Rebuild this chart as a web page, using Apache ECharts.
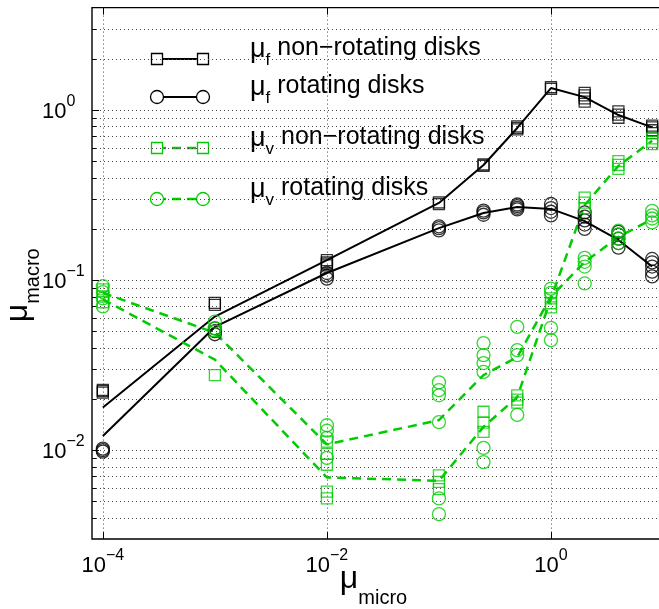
<!DOCTYPE html>
<html>
<head>
<meta charset="utf-8">
<script src="https://cdn.jsdelivr.net/npm/echarts@6/dist/echarts.min.js"></script>
<style>
  html, body { margin: 0; padding: 0; background: #fff; }
  #chart { width: 659px; height: 609px; }
</style>
</head>
<body>
<div id="chart"></div>
<script>
// micro friction values (x) where the runs were made
const xVals = [0.0001, 0.001, 0.01, 0.1, 0.25, 0.5, 1, 2, 4, 8];

// mean curves
const fNonRotMean = [0.0178, 0.061, 0.131, 0.284, 0.475, 0.784, 1.346, 1.19, 0.934, 0.79];
const fRotMean    = [0.0121, 0.053, 0.11, 0.202, 0.248, 0.269, 0.262, 0.222, 0.172, 0.12];
const vNonRotMean = [0.077, 0.034, 0.0069, 0.0066, 0.0137, 0.0205, 0.078, 0.276, 0.469, 0.66];
const vRotMean    = [0.084, 0.049, 0.0108, 0.015, 0.0276, 0.0352, 0.08, 0.1276, 0.179, 0.228];

// individual runs, one list per x value
const fNonRotRuns = [
  [0.0222, 0.0218, 0.0226], [0.0733, 0.0715], [0.122, 0.127, 0.131, 0.125],
  [0.28, 0.286], [0.47, 0.478], [0.77, 0.784, 0.8], [1.33, 1.36],
  [1.12, 1.17, 1.22, 1.26], [0.9, 0.94, 0.98], [0.73, 0.76, 0.79, 0.81]
];
const fRotRuns = [
  [0.0098, 0.01, 0.0102], [0.048, 0.05, 0.052], [0.102, 0.106, 0.11],
  [0.196, 0.202, 0.207], [0.242, 0.25, 0.256], [0.26, 0.266, 0.272, 0.278],
  [0.24, 0.252, 0.265, 0.28], [0.2, 0.212, 0.224, 0.236, 0.25],
  [0.155, 0.165, 0.175, 0.185, 0.192], [0.105, 0.112, 0.12, 0.127, 0.133]
];
const vNonRotRuns = [
  [0.088, 0.08, 0.074], [0.0276, 0.05], [0.0112, 0.0095, 0.0082, 0.0057, 0.0052],
  [0.0071, 0.0065, 0.0059], [0.0168, 0.0145, 0.0128], [0.021, 0.0198, 0.019],
  [0.078, 0.073, 0.069], [0.305, 0.285, 0.265], [0.5, 0.475, 0.45], [0.68, 0.65, 0.63]
];
const vRotRuns = [
  [0.092, 0.085, 0.078, 0.07], [0.057, 0.052], [0.014, 0.013, 0.0118, 0.009],
  [0.025, 0.0225, 0.021, 0.0146, 0.0052, 0.0042],
  [0.0426, 0.0362, 0.0325, 0.0288, 0.0103, 0.0085],
  [0.053, 0.0387, 0.0362, 0.0161], [0.089, 0.084, 0.0523, 0.0443],
  [0.135, 0.128, 0.12, 0.0955], [0.195, 0.185, 0.175, 0.165], [0.255, 0.24, 0.23, 0.218]
];

// grid / tick positions
const xMajorTicks = [0.0001, 0.01, 1];
const yMajorTicks = [0.01, 0.1, 1];
const yMinorTicks = [0.004, 0.005, 0.006, 0.007, 0.008, 0.009,
  0.02, 0.03, 0.04, 0.05, 0.06, 0.07, 0.08, 0.09,
  0.2, 0.3, 0.4, 0.5, 0.6, 0.7, 0.8, 0.9, 2, 3];

const legendNames = [
  { sub: 'f', text: ' non\u2212rotating disks' },
  { sub: 'f', text: ' rotating disks' },
  { sub: 'v', text: ' non\u2212rotating disks' },
  { sub: 'v', text: ' rotating disks' }
];

const FONT = 'Liberation Sans';
const BLACK = '#000';
const GREEN = '#00cc00';
const DASH = [9, 6];

const pairs = (ys) => xVals.map((x, i) => [x, ys[i]]);
const runPoints = (runs) => xVals.flatMap((x, i) => runs[i].map(y => [x, y]));

function expLabel(v, lo, hi, step) {
  const e = Math.log10(v);
  const r = Math.round(e);
  if (Math.abs(e - r) > 1e-6 || r < lo || r > hi || (r - lo) % step) return '';
  return '{b|10}{s|' + (r < 0 ? '\u2212' + (-r) : r) + '}';
}

// base "10" sits at the bottom of the line, the exponent at the top
const tickRich = {
  b: { fontFamily: FONT, fontSize: 22, lineHeight: 29.5, verticalAlign: 'bottom', color: BLACK },
  s: { fontFamily: FONT, fontSize: 16, lineHeight: 10, verticalAlign: 'top', color: BLACK }
};

// dotted grid lines + inward ticks
function hLine(params, api) {
  const cs = params.coordSys;
  const y = Math.round(api.coord([1, api.value(1)])[1]) + 0.5;
  const len = api.value(2) ? 7 : 4;
  return { type: 'group', children: [
    { type: 'line', shape: { x1: cs.x, y1: y, x2: cs.x + cs.width, y2: y },
      style: { stroke: '#444', lineWidth: 1, lineDash: [1, 3] } },
    { type: 'line', shape: { x1: cs.x, y1: y, x2: cs.x + len, y2: y },
      style: { stroke: BLACK, lineWidth: 1 } }
  ]};
}
function vLine(params, api) {
  const cs = params.coordSys;
  const x = Math.round(api.coord([api.value(0), 0.1])[0]) + 0.5;
  return { type: 'group', children: [
    { type: 'line', shape: { x1: x, y1: cs.y, x2: x, y2: cs.y + cs.height },
      style: { stroke: '#444', lineWidth: 1, lineDash: [1, 3] } },
    { type: 'line', shape: { x1: x, y1: cs.y + cs.height, x2: x, y2: cs.y + cs.height - 7 },
      style: { stroke: BLACK, lineWidth: 1 } },
    { type: 'line', shape: { x1: x, y1: cs.y, x2: x, y2: cs.y + 7 },
      style: { stroke: BLACK, lineWidth: 1 } }
  ]};
}

function meanLine(name, ys, color, dashed) {
  return {
    name, type: 'line', data: pairs(ys), symbol: 'none', z: 3, silent: true,
    lineStyle: { color, width: dashed ? 2.5 : 2, type: dashed ? DASH : 'solid' }
  };
}
function runScatter(name, runs, color, symbol) {
  return {
    name, type: 'scatter', data: runPoints(runs), symbol, z: 4, silent: true,
    symbolSize: symbol === 'rect' ? 11 : 13,
    itemStyle: { color: 'transparent', borderColor: color, borderWidth: 1.3 }
  };
}

// legend drawn by hand (marker - line - marker like the original)
const legendRows = [59, 97, 148, 199];
const legendStyle = [
  { color: BLACK, dash: null, sym: 'rect' },
  { color: BLACK, dash: null, sym: 'circle' },
  { color: GREEN, dash: DASH, sym: 'rect' },
  { color: GREEN, dash: DASH, sym: 'circle' }
];
const legendGraphics = [];
legendRows.forEach((y, i) => {
  const st = legendStyle[i];
  legendGraphics.push({ type: 'line', shape: { x1: 157, y1: y, x2: 203, y2: y },
    style: { stroke: st.color, lineWidth: st.dash ? 2.5 : 2, lineDash: st.dash } });
  [157, 203].forEach(cx => {
    if (st.sym === 'rect') {
      legendGraphics.push({ type: 'rect', shape: { x: cx - 5.5, y: y - 5.5, width: 11, height: 11 },
        style: { fill: '#fff', stroke: st.color, lineWidth: 1.3 } });
    } else {
      legendGraphics.push({ type: 'circle', shape: { cx, cy: y, r: 6.5 },
        style: { fill: '#fff', stroke: st.color, lineWidth: 1.3 } });
    }
  });
  legendGraphics.push({ type: 'text', x: 250, y: y - 23, style: {
    text: '{m|\u03bc}{s|' + legendNames[i].sub + '}{t|' + legendNames[i].text + '}',
    verticalAlign: 'top', align: 'left',
    rich: {
      m: { fontFamily: FONT, fontSize: 27, lineHeight: 24, verticalAlign: 'top', fill: BLACK },
      s: { fontFamily: FONT, fontSize: 17, lineHeight: 32.5, verticalAlign: 'bottom', fill: BLACK },
      t: { fontFamily: FONT, fontSize: 25, lineHeight: 24, verticalAlign: 'top', fill: BLACK }
    }
  }});
});

const chart = echarts.init(document.getElementById('chart'));
chart.setOption({
  animation: false,
  backgroundColor: '#fff',
  grid: {
    left: 92, right: -4, top: 7.6, bottom: 70,
    containLabel: false, outerBoundsMode: 'none',
    show: true, borderColor: BLACK, borderWidth: 1.4, backgroundColor: 'transparent'
  },
  xAxis: {
    type: 'log', logBase: 10, min: 0.00008, max: 10,
    axisLine: { show: false }, axisTick: { show: false }, splitLine: { show: false },
    axisLabel: { formatter: v => expLabel(v, -4, 0, 2), margin: 8.5, rich: tickRich,
      showMinLabel: true, showMaxLabel: true },
    name: '{m|\u03bc}{s|micro}', nameLocation: 'middle', nameGap: 24.5, nameMoveOverlap: false,
    nameTextStyle: {
      padding: [0, 8, 0, 0],
      rich: {
        m: { fontFamily: FONT, fontSize: 32, lineHeight: 30, verticalAlign: 'top', color: BLACK },
        s: { fontFamily: FONT, fontSize: 20, lineHeight: 44.5, verticalAlign: 'bottom', color: BLACK }
      }
    }
  },
  yAxis: {
    type: 'log', logBase: 10, min: 0.003, max: 4,
    axisLine: { show: false }, axisTick: { show: false }, splitLine: { show: false },
    axisLabel: { formatter: v => expLabel(v, -2, 0, 1), margin: 50, align: 'left',
      padding: [0, 0, 4, 0], rich: tickRich },
    name: '{m|\u03bc}{s|macro}', nameLocation: 'middle', nameGap: 49, nameMoveOverlap: false,
    nameTextStyle: {
      padding: [0, 24, 0, 0],
      rich: {
        m: { fontFamily: FONT, fontSize: 32, lineHeight: 30, verticalAlign: 'top', color: BLACK },
        s: { fontFamily: FONT, fontSize: 20, lineHeight: 41, verticalAlign: 'bottom', color: BLACK }
      }
    }
  },
  graphic: { elements: legendGraphics },
  series: [
    { type: 'custom', renderItem: hLine, z: 1, silent: true, encode: { x: 0, y: 1 },
      data: yMajorTicks.map(v => [1, v, 1]).concat(yMinorTicks.map(v => [1, v, 0])) },
    { type: 'custom', renderItem: vLine, z: 1, silent: true, encode: { x: 0, y: 1 },
      data: xMajorTicks.map(v => [v, 0.1]) },
    meanLine('f non-rotating mean', fNonRotMean, BLACK, false),
    meanLine('f rotating mean', fRotMean, BLACK, false),
    meanLine('v non-rotating mean', vNonRotMean, GREEN, true),
    meanLine('v rotating mean', vRotMean, GREEN, true),
    runScatter('f non-rotating', fNonRotRuns, BLACK, 'rect'),
    runScatter('f rotating', fRotRuns, BLACK, 'circle'),
    runScatter('v non-rotating', vNonRotRuns, GREEN, 'rect'),
    runScatter('v rotating', vRotRuns, GREEN, 'circle')
  ]
});
</script>
</body>
</html>
